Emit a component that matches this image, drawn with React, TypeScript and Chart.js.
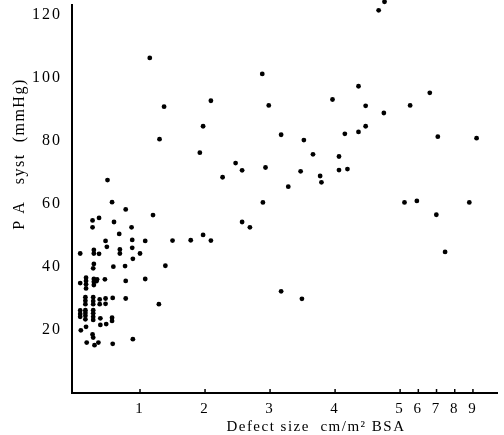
import { useEffect, useRef } from "react";
import { Chart, registerables } from "chart.js";

Chart.register(...registerables);

// Defect size (cm/m² BSA) and PA systolic pressure (mmHg) for each patient
const defectSize = [
  0.5, 0.57, 0.78, 0.27, 0.37, 0.27, 0.6, 0.87, 0.68, 0.47, 0.88, 0.49, 0.69, 0.88, 0.08,
  0.29, 0.29, 0.37, 0.69, 0.89, 0.29, 0.59, 0.77, 0.28, 0.08, 0.17, 0.17, 0.17, 0.17, 0.29,
  0.29, 0.29, 0.33, 0.34, 0.46, 0.78, 1.08, 0.16, 0.16, 0.16, 0.28, 0.28, 0.28, 0.38, 0.38,
  0.47, 0.47, 0.58, 0.78, 1.29, 0.08, 0.08, 0.08, 0.16, 0.16, 0.16, 0.16, 0.28, 0.28, 0.28,
  0.28, 0.39, 0.39, 0.48, 0.57, 0.57, 0.17, 0.09, 0.27, 0.28, 0.18, 0.3, 0.36, 0.58, 0.89,
  1.15, 2.88, 3.96, 1.37, 2.09, 2.98, 1.97, 1.3, 3.17, 3.52, 1.92, 3.66, 4.06, 2.47, 2.57,
  2.93, 2.27, 3.47, 3.77, 3.79, 4.06, 3.28, 2.89, 2.57, 2.69, 1.2, 1.08, 1.5, 1.78, 1.97,
  2.09, 1.0, 1.39, 3.17, 3.49,
  4.67, 4.76, 4.36, 6.63, 4.47, 5.55, 4.75, 4.47, 4.15, 4.36, 7.07, 9.2, 4.19, 5.24, 5.92,
  6.99, 7.47, 8.8,
];
const paSyst = [
  67.6, 60.6, 58.3, 54.8, 55.6, 52.6, 54.3, 52.6, 50.5, 48.3, 48.6, 46.4, 45.6, 46.1, 44.3,
  45.4, 44.3, 44.2, 44.3, 42.6, 41.0, 40.1, 40.3, 39.6, 34.9, 36.6, 35.6, 34.5, 33.2, 36.2,
  35.3, 34.3, 35.5, 36.1, 36.1, 35.6, 36.2, 30.4, 29.3, 28.2, 30.4, 29.2, 28.2, 29.7, 28.2,
  30.0, 28.3, 30.2, 30.0, 28.2, 26.2, 25.1, 24.2, 26.3, 25.4, 24.5, 23.4, 26.3, 25.3, 24.2,
  23.2, 23.7, 21.6, 21.9, 23.9, 22.9, 21.0, 19.9, 18.6, 17.6, 16.0, 15.2, 16.0, 15.6, 17.1,
  106.4, 101.3, 93.2, 90.9, 92.8, 91.3, 84.7, 80.6, 82.0, 80.3, 76.3, 75.8, 75.1, 73.0, 70.7,
  71.6, 68.5, 70.4, 68.9, 66.9, 70.8, 65.5, 60.5, 54.3, 52.6, 56.5, 48.3, 48.4, 48.5, 50.2,
  48.4, 44.3, 40.4, 32.3, 29.9,
  121.5, 124.2, 97.4, 95.3, 91.2, 91.3, 88.9, 84.7, 82.3, 82.9, 81.4, 80.9, 71.1, 60.5, 61.0,
  56.6, 44.8, 60.5,
];
const xTickValues = [1, 2, 3, 4, 5, 6, 7, 8, 9];
const yTickValues = [20, 40, 60, 80, 100, 120];
const xTitle = "Defect size  cm/m² BSA";
const yTitle = "P A   syst  (mmHg)";

// The axis is linear up to 5, compressed beyond it
const BREAK = 5;
const COMPRESS = 0.28;
const toAxis = (v: number) => (v <= BREAK ? v : BREAK + (v - BREAK) * COMPRESS);
const fromAxis = (u: number) => (u <= BREAK ? u : BREAK + (u - BREAK) / COMPRESS);

const FONT = "'Liberation Serif', 'DejaVu Serif', serif";

export default function App() {
  const ref = useRef<HTMLCanvasElement>(null);

  useEffect(() => {
    document.body.style.margin = "0";
    const canvas = ref.current;
    if (!canvas) return;

    const decor = {
      id: "decor",
      beforeDraw(chart: any) {
        chart.ctx.letterSpacing = "2px";
      },
      afterDraw(chart: any) {
        const { ctx, chartArea, scales } = chart;
        const xs = scales.x;
        ctx.save();
        ctx.strokeStyle = "#000";
        ctx.lineWidth = 1.5;
        xTickValues.forEach((v) => {
          const px = xs.getPixelForValue(toAxis(v));
          ctx.beginPath();
          ctx.moveTo(px, chartArea.bottom - 4);
          ctx.lineTo(px, chartArea.bottom);
          ctx.stroke();
        });
        ctx.fillStyle = "#000";
        ctx.letterSpacing = "1.5px";
        ctx.font = `15px ${FONT}`;
        ctx.textAlign = "center";
        ctx.textBaseline = "middle";
        const w = chartArea.right - chartArea.left;
        ctx.fillText(xTitle, chartArea.left + w * 0.574, chartArea.bottom + 34);
        const h = chartArea.bottom - chartArea.top;
        ctx.translate(20, chartArea.top + h * 0.384);
        ctx.rotate(-Math.PI / 2);
        ctx.font = `16px ${FONT}`;
        ctx.fillText(yTitle, 0, 0);
        ctx.restore();
      },
    };

    const chart = new Chart(canvas, {
      type: "scatter",
      data: {
        datasets: [
          {
            data: defectSize.map((x, i) => ({ x: toAxis(x), y: paSyst[i] })),
            backgroundColor: "#000",
            borderColor: "#000",
            borderWidth: 0,
            pointRadius: 2.4,
            clip: false,
          } as any,
        ],
      },
      options: {
        responsive: false,
        animation: false,
        layout: { padding: { top: 5, right: 7, left: 0, bottom: 0 } },
        plugins: { legend: { display: false }, tooltip: { enabled: false } },
        scales: {
          x: {
            type: "linear",
            min: -0.046,
            max: 6.49,
            grid: { display: false, drawTicks: false },
            border: { display: true, color: "#000", width: 2 },
            ticks: {
              color: "#000",
              font: { family: FONT, size: 15 },
              padding: 7,
              maxRotation: 0,
              autoSkip: false,
              callback: (val: any) => String(Math.round(fromAxis(Number(val)))),
            },
            afterBuildTicks: (s: any) => {
              s.ticks = xTickValues.map((v) => ({ value: toAxis(v) }));
            },
            afterFit: (s: any) => {
              s.height = 42;
              s.paddingLeft = 0;
              s.paddingRight = 0;
            },
          },
          y: {
            type: "linear",
            min: 0,
            max: 123.2,
            grid: { display: false, drawTicks: false },
            border: { display: true, color: "#000", width: 2 },
            ticks: {
              color: "#000",
              font: { family: FONT, size: 16 },
              padding: 10,
              autoSkip: false,
            },
            afterBuildTicks: (s: any) => {
              s.ticks = yTickValues.map((v) => ({ value: v }));
            },
            afterFit: (s: any) => {
              s.width = 72;
              s.paddingTop = 0;
              s.paddingBottom = 0;
            },
          },
        },
      },
      plugins: [decor],
    });

    return () => chart.destroy();
  }, []);

  return <canvas ref={ref} width={504} height={435} style={{ display: "block" }} />;
}
